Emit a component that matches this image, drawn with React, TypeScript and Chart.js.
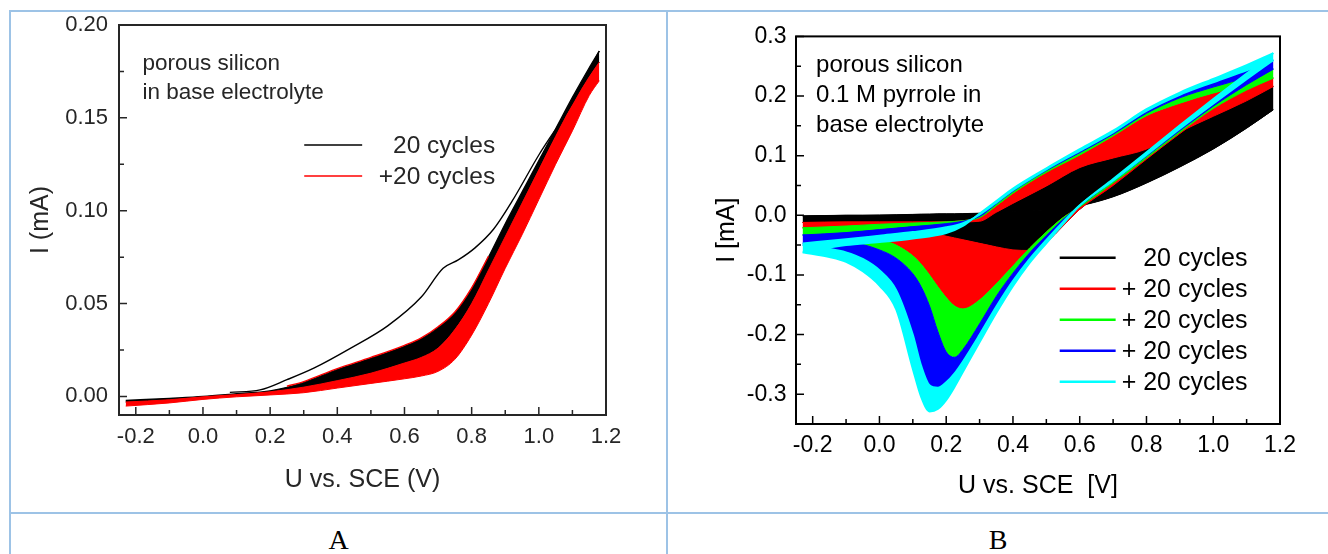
import React, { useEffect, useRef } from 'react';
import { Chart, registerables } from 'chart.js';

Chart.register(...registerables);

const FONT = "'Liberation Sans', Arial, Helvetica, sans-serif";
const SERIF = "'Liberation Serif', 'Times New Roman', serif";

// ================= Panel A : porous silicon in base electrolyte =================
const aX = [-0.23, -0.1, 0.0, 0.1, 0.2, 0.3, 0.4, 0.5, 0.6, 0.65, 0.7, 0.75, 0.8, 0.85, 0.9, 0.95, 1.0, 1.05, 1.1, 1.15, 1.18];
// upper edge of the black cycles
const aBlackTop = [-0.0022, -0.001, 0.0, 0.0015, 0.003, 0.0075, 0.0145, 0.0205, 0.027, 0.031, 0.037, 0.045, 0.058, 0.075, 0.093, 0.11, 0.127, 0.144, 0.161, 0.177, 0.186];
// lower edge of the black cycles = upper edge of the red band
const aBlackBottom = [-0.003, -0.0018, -0.0002, 0.001, 0.0025, 0.005, 0.0085, 0.0125, 0.018, 0.021, 0.026, 0.036, 0.05, 0.068, 0.086, 0.104, 0.122, 0.14, 0.157, 0.172, 0.18];
// lower edge of the red cycles
const aRedBottom = [-0.0052, -0.0035, -0.0016, -0.0002, 0.0008, 0.002, 0.0045, 0.007, 0.0095, 0.011, 0.0135, 0.02, 0.033, 0.05, 0.069, 0.087, 0.106, 0.125, 0.143, 0.162, 0.17];
// thin red line on top of the black band
const aRedTopX = [0.25, 0.3, 0.4, 0.5, 0.6, 0.65, 0.7, 0.75, 0.8, 0.85];
const aRedTopY = [0.0055, 0.008, 0.015, 0.021, 0.0275, 0.0315, 0.0375, 0.0455, 0.0585, 0.0755];
// first cycle (starts near 0.17 V)
const aFirstX = [0.08, 0.17, 0.25, 0.33, 0.44, 0.55, 0.65, 0.715, 0.76, 0.81, 0.865, 0.92, 1.0, 1.1, 1.18];
const aFirstY = [0.0022, 0.0035, 0.009, 0.0152, 0.026, 0.038, 0.0535, 0.069, 0.0735, 0.08, 0.09, 0.105, 0.13, 0.158, 0.186];

// ================= Panel B : porous silicon, 0.1 M pyrrole =================
// forward (anodic) branches: cycle 1, 20, 40, 60, 80, 100
const bFwdX = [-0.23, -0.1, 0.0, 0.1, 0.2, 0.25, 0.3, 0.35, 0.4, 0.5, 0.6, 0.7, 0.8, 0.9, 1.0, 1.1, 1.18];
const bFwd0 = [-0.001, 0.0, 0.0, 0.001, 0.002, 0.002, 0.003, 0.004, 0.006, 0.009, 0.016, 0.031, 0.054, 0.081, 0.111, 0.146, 0.177];
const bFwd20 = [-0.012, -0.011, -0.011, -0.011, -0.011, -0.011, -0.01, 0.005, 0.02, 0.049, 0.08, 0.096, 0.111, 0.14, 0.166, 0.192, 0.216];
const bFwd40 = [-0.021, -0.018, -0.015, -0.013, -0.011, -0.009, -0.004, 0.016, 0.037, 0.072, 0.101, 0.133, 0.167, 0.188, 0.205, 0.219, 0.23];
const bFwd60 = [-0.033, -0.029, -0.024, -0.019, -0.014, -0.01, -0.002, 0.019, 0.04, 0.075, 0.105, 0.136, 0.171, 0.197, 0.215, 0.231, 0.245];
const bFwd80 = [-0.047, -0.04, -0.034, -0.028, -0.02, -0.013, 0.001, 0.021, 0.042, 0.077, 0.108, 0.139, 0.175, 0.202, 0.223, 0.243, 0.26];
const bFwd100 = [-0.062, -0.05, -0.045, -0.039, -0.03, -0.018, 0.003, 0.024, 0.045, 0.079, 0.111, 0.142, 0.178, 0.206, 0.229, 0.252, 0.272];
// reverse (cathodic) branches: cycle 1, 20, 40, 60, 80, 100
const bRevX = [-0.23, -0.15, -0.1, -0.05, 0.0, 0.05, 0.1, 0.125, 0.15, 0.175, 0.2, 0.225, 0.25, 0.3, 0.35, 0.4, 0.45, 0.5, 0.55, 0.6, 0.7, 0.8, 0.9, 1.0, 1.1, 1.18];
const bRev0 = [-0.001, -0.0005, 0.0, 0.0, 0.0005, 0.001, 0.0015, 0.002, 0.002, 0.0025, 0.0025, 0.0025, 0.0028, 0.0035, 0.0045, 0.0065, 0.008, 0.0095, 0.0125, 0.0165, 0.0315, 0.0545, 0.0815, 0.1115, 0.1465, 0.177];
const bRev20 = [-0.012, -0.014, -0.016, -0.018, -0.02, -0.022, -0.025, -0.027, -0.029, -0.032, -0.035, -0.038, -0.041, -0.047, -0.053, -0.058, -0.059, -0.045, -0.018, 0.01, 0.05, 0.094, 0.137, 0.176, 0.2, 0.216];
const bRev40 = [-0.021, -0.026, -0.029, -0.034, -0.04, -0.05, -0.068, -0.082, -0.1, -0.12, -0.138, -0.152, -0.157, -0.142, -0.115, -0.085, -0.055, -0.028, -0.004, 0.014, 0.054, 0.096, 0.139, 0.179, 0.21, 0.23];
const bRev60 = [-0.033, -0.038, -0.043, -0.049, -0.058, -0.072, -0.098, -0.12, -0.152, -0.195, -0.229, -0.238, -0.225, -0.182, -0.136, -0.097, -0.063, -0.034, -0.007, 0.016, 0.057, 0.099, 0.142, 0.183, 0.219, 0.245];
const bRev80 = [-0.05, -0.056, -0.062, -0.073, -0.092, -0.125, -0.2, -0.252, -0.285, -0.289, -0.28, -0.265, -0.245, -0.2, -0.153, -0.11, -0.073, -0.041, -0.011, 0.017, 0.058, 0.101, 0.145, 0.187, 0.228, 0.26];
const bRev100 = [-0.062, -0.07, -0.078, -0.094, -0.118, -0.158, -0.258, -0.305, -0.329, -0.325, -0.31, -0.288, -0.263, -0.213, -0.164, -0.119, -0.08, -0.047, -0.015, 0.016, 0.061, 0.106, 0.151, 0.195, 0.238, 0.272];

// ================= ticks, labels, colours =================
const xMajorTicks = [-0.2, 0, 0.2, 0.4, 0.6, 0.8, 1.0, 1.2];
const xMinorTicks = [-0.1, 0.1, 0.3, 0.5, 0.7, 0.9, 1.1];
const aYMajorTicks = [0, 0.05, 0.1, 0.15, 0.2];
const aYMinorTicks = [0.025, 0.075, 0.125, 0.175];
const bYMajorTicks = [-0.3, -0.2, -0.1, 0, 0.1, 0.2, 0.3];
const bYMinorTicks = [-0.25, -0.15, -0.05, 0.05, 0.15, 0.25];

const aNotes = ['porous silicon', 'in base electrolyte'];
const bNotes = ['porous silicon', '0.1 M pyrrole in', 'base electrolyte'];
const aLegendLabels = ['20 cycles', '+20 cycles'];
const aColors = ['#000000', '#ff0000'];
const bLegendLabels = ['20 cycles', '+ 20 cycles', '+ 20 cycles', '+ 20 cycles', '+ 20 cycles'];
const bColors = ['#000000', '#ff0000', '#00ff00', '#0000ff', '#00ffff'];

const toPts = (xs: number[], ys: number[]) => xs.map((x, i) => ({ x, y: ys[i] }));

function lineDs(xs: number[], ys: number[], color: string, width: number, fill: any = false) {
  return {
    data: toPts(xs, ys),
    borderColor: color,
    backgroundColor: color,
    borderWidth: width,
    pointRadius: 0,
    pointHoverRadius: 0,
    fill,
    cubicInterpolationMode: 'monotone',
  };
}

type DecoCfg = {
  color: string;
  xMajor: number[];
  xMinor: number[];
  yMajor: number[];
  yMinor: number[];
  notes: string[];
  noteFont: string;
  noteAt: { x: number; y: number; dy: number };
  legendLabels: string[];
  legendColors: string[];
  legendFont: string;
  legendAt: { x1: number; x2: number; tx: number; y0: number; dy: number; lw: number };
};

function makeDeco(d: DecoCfg) {
  return {
    id: 'deco',
    afterDraw(chart: any) {
      const { ctx, chartArea: a, scales } = chart;
      const xs = scales.x;
      const ys = scales.y;
      ctx.save();
      ctx.strokeStyle = d.color;
      ctx.lineWidth = 1.5;
      ctx.beginPath();
      const tx = (v: number, len: number) => {
        const p = xs.getPixelForValue(v);
        ctx.moveTo(p, a.bottom);
        ctx.lineTo(p, a.bottom - len);
      };
      const ty = (v: number, len: number) => {
        const p = ys.getPixelForValue(v);
        ctx.moveTo(a.left, p);
        ctx.lineTo(a.left + len, p);
      };
      d.xMajor.forEach((v) => tx(v, 8));
      d.xMinor.forEach((v) => tx(v, 5));
      d.yMajor.forEach((v) => ty(v, 8));
      d.yMinor.forEach((v) => ty(v, 5));
      ctx.stroke();
      ctx.lineWidth = 2;
      ctx.strokeRect(a.left, a.top, a.right - a.left, a.bottom - a.top);

      ctx.fillStyle = d.color;
      ctx.textBaseline = 'middle';
      ctx.textAlign = 'left';
      ctx.font = d.noteFont;
      const nx = xs.getPixelForValue(d.noteAt.x);
      const ny = ys.getPixelForValue(d.noteAt.y);
      d.notes.forEach((t, i) => ctx.fillText(t, nx, ny + i * d.noteAt.dy));

      const L = d.legendAt;
      const lx1 = xs.getPixelForValue(L.x1);
      const lx2 = xs.getPixelForValue(L.x2);
      const ltx = xs.getPixelForValue(L.tx);
      const ly0 = ys.getPixelForValue(L.y0);
      ctx.font = d.legendFont;
      ctx.textAlign = 'right';
      d.legendLabels.forEach((t, i) => {
        const y = ly0 + i * L.dy;
        ctx.strokeStyle = d.legendColors[i];
        ctx.lineWidth = L.lw;
        ctx.beginPath();
        ctx.moveTo(lx1, y);
        ctx.lineTo(lx2, y);
        ctx.stroke();
        ctx.fillStyle = d.color;
        ctx.fillText(t, ltx, y + 1);
      });
      ctx.restore();
    },
  };
}

type AxisCfg = {
  min: number; max: number; ticks: number[]; dec: number; size: number; pad: number;
  title: string; titleSize: number; tPadTop: number; tPadBottom: number; fit: number; color: string;
};

function xAxis(c: AxisCfg) {
  return {
    type: 'linear',
    position: 'bottom',
    min: c.min,
    max: c.max,
    afterBuildTicks: (s: any) => { s.ticks = c.ticks.map((v) => ({ value: v })); },
    afterFit: (s: any) => { s.height = c.fit; s.paddingLeft = 0; s.paddingRight = 0; },
    grid: { display: false, drawTicks: false },
    border: { display: false },
    ticks: {
      autoSkip: false, maxRotation: 0, padding: c.pad, color: c.color,
      font: { family: FONT, size: c.size },
      callback: (v: any) => Number(v).toFixed(c.dec),
    },
    title: {
      display: true, text: c.title, color: c.color,
      font: { family: FONT, size: c.titleSize },
      padding: { top: c.tPadTop, bottom: c.tPadBottom },
    },
  };
}

function yAxis(c: AxisCfg) {
  return {
    type: 'linear',
    position: 'left',
    min: c.min,
    max: c.max,
    afterBuildTicks: (s: any) => { s.ticks = c.ticks.map((v) => ({ value: v })); },
    afterFit: (s: any) => { s.width = c.fit; s.paddingTop = 0; s.paddingBottom = 0; },
    grid: { display: false, drawTicks: false },
    border: { display: false },
    ticks: {
      autoSkip: false, padding: c.pad, color: c.color,
      font: { family: FONT, size: c.size },
      callback: (v: any) => Number(v).toFixed(c.dec),
    },
    title: {
      display: true, text: c.title, color: c.color,
      font: { family: FONT, size: c.titleSize },
      padding: { top: c.tPadTop, bottom: c.tPadBottom },
    },
  };
}

function withOrder(ds: any[]) {
  return ds.map((d, i) => ({ ...d, order: ds.length - i }));
}

function configA(): any {
  const ds: any[] = [];
  ds.push(lineDs(aX, aBlackBottom, aColors[0], 1)); // 0
  ds.push(lineDs(aX, aBlackTop, aColors[0], 1.3, 0)); // 1 black band
  ds.push(lineDs(aX, aRedBottom, aColors[1], 1)); // 2
  ds.push(lineDs(aX, aBlackBottom, aColors[1], 1, 2)); // 3 red band
  ds.push(lineDs(aRedTopX, aRedTopY, aColors[1], 1.4)); // 4
  ds.push(lineDs(aFirstX, aFirstY, aColors[0], 1.4)); // 5 first cycle
  const col = '#262626';
  return {
    type: 'line',
    data: { datasets: withOrder(ds) },
    options: {
      animation: false,
      responsive: false,
      events: [],
      layout: { padding: { left: 10, right: 60, top: 13, bottom: 10 } },
      plugins: { legend: { display: false }, tooltip: { enabled: false } },
      scales: {
        x: xAxis({ min: -0.25, max: 1.2, ticks: xMajorTicks, dec: 1, size: 22, pad: 9, title: 'U vs. SCE (V)', titleSize: 25, tPadTop: 0, tPadBottom: 6, fit: 86, color: col }),
        y: yAxis({ min: -0.01, max: 0.2, ticks: aYMajorTicks, dec: 2, size: 22, pad: 11, title: 'I (mA)', titleSize: 25, tPadTop: 5, tPadBottom: 0, fit: 98, color: col }),
      },
    },
    plugins: [
      makeDeco({
        color: col,
        xMajor: xMajorTicks, xMinor: xMinorTicks, yMajor: aYMajorTicks, yMinor: aYMinorTicks,
        notes: aNotes, noteFont: `22.5px ${FONT}`, noteAt: { x: -0.18, y: 0.179, dy: 29 },
        legendLabels: aLegendLabels, legendColors: aColors, legendFont: `24.5px ${FONT}`,
        legendAt: { x1: 0.3015, x2: 0.474, tx: 0.87, y0: 0.1354, dy: 31, lw: 1.6 },
      }),
    ],
  };
}

function configB(): any {
  const fwd = [bFwd0, bFwd20, bFwd40, bFwd60, bFwd80, bFwd100];
  const rev = [bRev0, bRev20, bRev40, bRev60, bRev80, bRev100];
  const ds: any[] = [];
  for (let g = 0; g < 5; g++) {
    const c = bColors[g];
    const w = g === 4 ? 1.8 : 1;
    const branches: [number[], number[][]][] = [[bFwdX, fwd], [bRevX, rev]];
    for (const [X, Ys] of branches) {
      const low = ds.length;
      ds.push(lineDs(X, Ys[g], c, w));
      ds.push(lineDs(X, Ys[g + 1], c, w, low));
    }
  }
  const col = '#000000';
  return {
    type: 'line',
    data: { datasets: withOrder(ds) },
    options: {
      animation: false,
      responsive: false,
      events: [],
      layout: { padding: { left: 38, right: 48, top: 24.4, bottom: 4 } },
      plugins: { legend: { display: false }, tooltip: { enabled: false } },
      scales: {
        x: xAxis({ min: -0.25, max: 1.2, ticks: xMajorTicks, dec: 1, size: 23, pad: 8.2, title: 'U vs. SCE  [V]', titleSize: 25, tPadTop: 0, tPadBottom: 5.5, fit: 83, color: col }),
        y: yAxis({ min: -0.35, max: 0.3, ticks: bYMajorTicks, dec: 1, size: 23, pad: 9.5, title: 'I [mA]', titleSize: 25, tPadTop: 5, tPadBottom: 0, fit: 89, color: col }),
      },
    },
    plugins: [
      makeDeco({
        color: col,
        xMajor: xMajorTicks, xMinor: xMinorTicks, yMajor: bYMajorTicks, yMinor: bYMinorTicks,
        notes: bNotes, noteFont: `24px ${FONT}`, noteAt: { x: -0.19, y: 0.2514, dy: 30 },
        legendLabels: bLegendLabels, legendColors: bColors, legendFont: `25px ${FONT}`,
        legendAt: { x1: 0.54, x2: 0.7076, tx: 1.1023, y0: -0.0712, dy: 31, lw: 2.5 },
      }),
    ],
  };
}

function CvChart(props: { make: () => any; left: number; top: number; width: number; height: number }) {
  const ref = useRef<HTMLCanvasElement>(null);
  useEffect(() => {
    const chart = new Chart(ref.current as HTMLCanvasElement, props.make());
    return () => chart.destroy();
  }, []);
  return (
    <canvas
      ref={ref}
      width={props.width}
      height={props.height}
      style={{ position: 'absolute', left: props.left, top: props.top, width: props.width, height: props.height }}
    />
  );
}

const BORDER = '#9dc3e6';

export default function App() {
  const line = (l: number, t: number, w: number, h: number) => (
    <div style={{ position: 'absolute', left: l, top: t, width: w, height: h, background: BORDER }} />
  );
  const label = (text: string, l: number, w: number) => (
    <div style={{ position: 'absolute', left: l, top: 520, width: w, height: 40, lineHeight: '40px', textAlign: 'center', fontFamily: SERIF, fontSize: 28, color: '#000' }}>{text}</div>
  );
  return (
    <div style={{ position: 'fixed', left: 0, top: 0, width: 1328, height: 554, background: '#fff', overflow: 'hidden' }}>
      {line(9, 10, 1319, 2)}
      {line(9, 10, 2, 544)}
      {line(666, 10, 2, 544)}
      {line(9, 512, 1319, 2)}
      <CvChart make={configA} left={11} top={12} width={655} height={499} />
      <CvChart make={configB} left={669} top={12} width={659} height={499} />
      {label('A', 11, 655)}
      {label('B', 668, 660)}
    </div>
  );
}
